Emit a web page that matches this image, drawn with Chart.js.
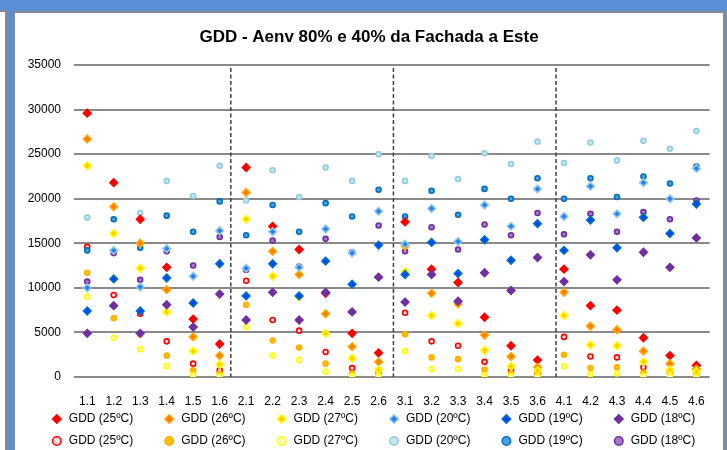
<!DOCTYPE html>
<html>
<head>
<meta charset="utf-8">
<script src="https://cdn.jsdelivr.net/npm/chart.js@4"></script>
<style>
  html, body { margin: 0; padding: 0; }
  body {
    width: 727px;
    height: 450px;
    overflow: hidden;
    background: #5a8ed6;
    position: relative;
    font-family: "Liberation Sans", Arial, sans-serif;
  }
  .side-panel {
    position: absolute;
    left: -20px;
    top: 10px;
    width: 23px;
    height: 460px;
    background: #fff;
    border: 2px solid #8a8a8a;
  }
  .panel {
    position: absolute;
    left: 13px;
    top: 11px;
    width: 708px;
    height: 460px;
    background: #fff;
    border: 2px solid #8a8a8a;
  }
  .chart-box {
    position: absolute;
    left: 15px;
    top: 13px;
    width: 707px;
    height: 450px;
  }
</style>
</head>
<body>
<div class="side-panel"></div>
<div class="panel"></div>
<div class="chart-box"><canvas id="gdd"></canvas></div>

<script>
// categories (facade cases)
const categories = ['1.1','1.2','1.3','1.4','1.5','1.6','2.1','2.2','2.3','2.4','2.5','2.6',
                    '3.1','3.2','3.3','3.4','3.5','3.6','4.1','4.2','4.3','4.4','4.5','4.6'];

// diamond series (Aenv 80%)
const d25 = [29600,21800,17700,12300,6500,3700, 23500,16900,14300,9400,4900,2700, 17400,12100,10600,6700,3500,1900, 12100,8000,7500,4400,2400,1300];
const d26 = [26700,19100,15000,9800,4500,2400, 20700,14100,11500,7100,3400,1700, 14700,9400,8200,4700,2300,1100, 9500,5700,5300,2900,1500,900];
const d27 = [23700,16100,12200,7300,2900,1400, 17700,11300,9000,4900,2100,800, 11800,6900,6000,3000,1200,700, 6900,3600,3500,1700,800,600];
const d20 = [10000,14200,10100,14400,11300,16400, 12200,16300,12300,16600,13900,18600, 14900,18900,15200,19300,16900,21100, 18000,21400,18300,21800,20000,23400];
const d19 = [7400,11000,7400,11100,8300,12700, 9100,12700,9100,13000,10400,14800, 11500,15100,11600,15400,13100,17200, 14200,17600,14500,17900,16100,19400];
const d18 = [4900,8000,4900,8100,5600,9300, 6400,9500,6400,9500,7300,11200, 8400,11500,8500,11700,9700,13400, 10700,13700,10900,14000,12300,15600];

// circle series (Aenv 40%)
const c25 = [14600,9200,7100,4000,1500,750, 10800,6400,5200,2800,1000,500, 7200,4000,3500,1700,700,400, 4500,2300,2200,1100,600,400];
const c26 = [11700,6600,4800,2400,750,400, 8100,4100,3300,1500,400,350, 4800,2200,2000,800,400,250, 2500,1000,1100,500,400,200];
const c27 = [9000,4400,3100,1200,200,100, 5600,2400,1900,600,100,100, 2900,900,900,200,100,50, 1200,300,400,100,50,50];
const c20 = [17900,21800,18400,22000,20300,23700, 19800,23200,20200,23500,22000,25000, 22000,24800,22200,25100,23900,26400, 24000,26300,24300,26500,25600,27600];
const c19 = [14200,17700,14500,18100,16300,19700, 15900,19300,16300,19500,18000,21000, 18000,20900,18200,21100,20000,22300, 20000,22300,20200,22500,21700,23600];
const c18 = [10700,13900,10900,14100,12500,15700, 12000,15300,12400,15500,14000,17000, 14100,16800,14300,17100,15900,18400, 16000,18300,16300,18500,17700,19800];

// dashed separators, in category units (drawn by hand in the original)
const dividerAt = [5.42, 11.56, 17.7];

const FONT = '"Liberation Sans", Arial, sans-serif';

function diamond(label, data, outer, inner, order) {
  return {
    label, data, order,
    showLine: false,
    pointStyle: 'rectRot',
    pointRadius: 3.8,
    pointHoverRadius: 3.8,
    borderWidth: 1.6,
    borderColor: outer,
    backgroundColor: inner,
  };
}

function circle(label, data, ring, fill, order) {
  return {
    label, data, order,
    showLine: false,
    pointStyle: 'circle',
    pointRadius: 2.5,
    pointHoverRadius: 2.5,
    borderWidth: 1.6,
    borderColor: ring,
    backgroundColor: fill,
  };
}

const datasets = [
  diamond('GDD (25ºC)', d25, '#ff0000', '#ff0000', 6),
  diamond('GDD (26ºC)', d26, '#ffa800', '#ff7a00', 5),
  diamond('GDD (27ºC)', d27, '#ffff00', '#ffcc00', 4),
  diamond('GDD (20ºC)', d20, '#8fcbe2', '#2a7cff', 3),
  diamond('GDD (19ºC)', d19, '#0070c0', '#0044ff', 2),
  diamond('GDD (18ºC)', d18, '#7030a0', '#7030a0', 1),
  circle('GDD (25ºC)', c25, '#ff0000', '#ffe0e0', 12),
  circle('GDD (26ºC)', c26, '#ffb000', '#ffc000', 11),
  circle('GDD (27ºC)', c27, '#ffff00', '#ffffb0', 10),
  circle('GDD (20ºC)', c20, '#92cddc', '#c8e6ef', 9),
  circle('GDD (19ºC)', c19, '#0070c0', '#4f9fdc', 8),
  circle('GDD (18ºC)', c18, '#7030a0', '#a878cc', 7),
];

// vertical dashed lines between the four groups
const dividers = {
  id: 'dividers',
  beforeDatasetsDraw(chart) {
    const x = chart.scales.x;
    const area = chart.chartArea;
    const ctx = chart.ctx;
    const step = x.getPixelForValue(1) - x.getPixelForValue(0);
    ctx.save();
    ctx.strokeStyle = '#404040';
    ctx.lineWidth = 1.5;
    ctx.setLineDash([4, 2.5]);
    dividerAt.forEach(v => {
      const i = Math.floor(v);
      const px = x.getPixelForValue(i) + (v - i) * step;
      ctx.beginPath();
      ctx.moveTo(px, area.top + 3);
      ctx.lineTo(px, area.bottom);
      ctx.stroke();
    });
    ctx.restore();
  }
};

// the legend grid sits a bit right of the title centre and tight under the axis labels
const legendNudge = {
  id: 'legendNudge',
  afterLayout(chart) {
    const lg = chart.legend;
    if (lg) {
      lg.left += 4;
      lg.right += 4;
      lg.top -= 6;
      lg.bottom -= 6;
    }
  }
};

new Chart(document.getElementById('gdd'), {
  type: 'line',
  data: { labels: categories, datasets },
  plugins: [dividers, legendNudge],
  options: {
    responsive: true,
    maintainAspectRatio: false,
    animation: false,
    layout: { padding: { left: 12, right: 11, top: 0, bottom: 0 } },
    plugins: {
      title: {
        display: true,
        text: 'GDD - Aenv 80% e 40% da Fachada a Este',
        color: '#000',
        font: { family: FONT, size: 17, weight: 'bold' },
        padding: { top: 13.8, bottom: 17.8 }
      },
      legend: {
        position: 'bottom',
        labels: {
          usePointStyle: true,
          boxWidth: 12,
          boxHeight: 6,
          padding: 10,
          color: '#000',
          font: { family: FONT, size: 12 },
          sort: (a, b) => a.datasetIndex - b.datasetIndex,
          generateLabels(chart) {
            const items = Chart.defaults.plugins.legend.labels.generateLabels(chart);
            // pad the label so six items share one row like the original grid
            items.forEach(it => {
              if (it.datasetIndex % 6 !== 5) it.text = it.text + '      ';
            });
            return items;
          }
        }
      },
      tooltip: { enabled: false }
    },
    scales: {
      x: {
        type: 'category',
        offset: true,
        grid: { display: false, drawTicks: false },
        border: { display: false },
        ticks: {
          color: '#000',
          font: { family: FONT, size: 12 },
          padding: 17,
          maxRotation: 0,
          autoSkip: false
        },
        afterFit(scale) { scale.height = 32; }
      },
      y: {
        min: 0,
        max: 35000,
        grid: { color: '#8a8a8a', lineWidth: 2, drawTicks: false },
        border: { display: false },
        ticks: {
          stepSize: 5000,
          color: '#000',
          font: { family: FONT, size: 12 },
          padding: 13,
          callback: v => String(v)
        },
        afterFit(scale) { scale.width = 47; }
      }
    }
  }
});
</script>
</body>
</html>
